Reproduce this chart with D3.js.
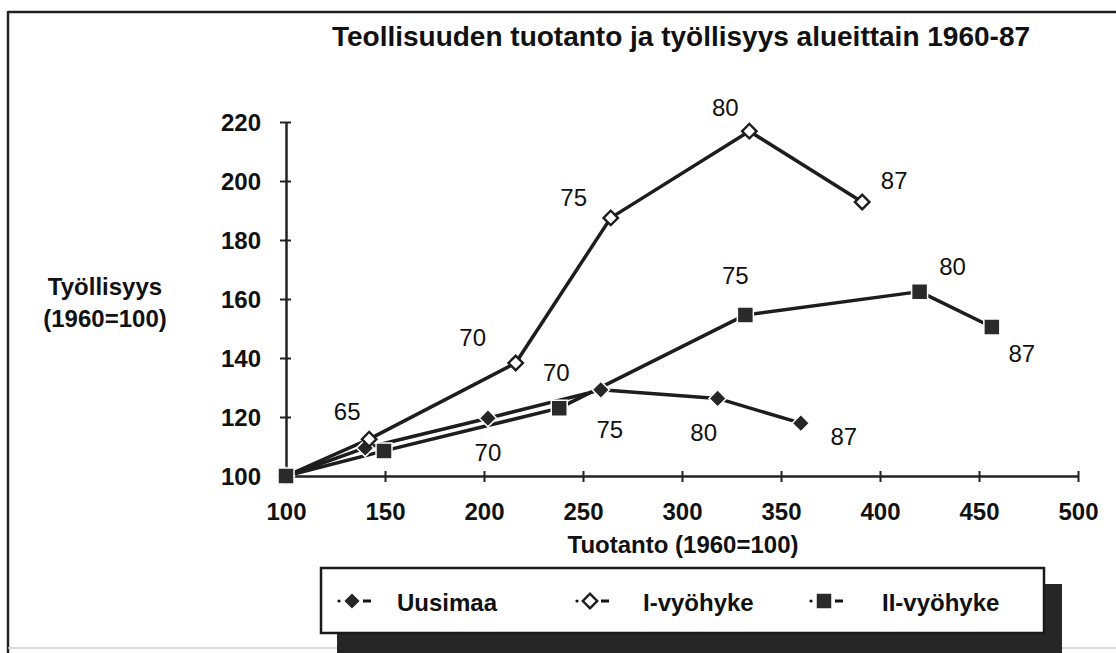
<!DOCTYPE html>
<html>
<head>
  <meta charset="utf-8">
  <title>Teollisuuden tuotanto ja työllisyys</title>
  <script src="https://cdn.jsdelivr.net/npm/d3@7"></script>
  <style>
    body { margin: 0; background: #fff; }
    svg text { font-family: "Liberation Sans", Arial, Helvetica, sans-serif; fill: #111; }
  </style>
</head>
<body>
  <div id="chart"></div>
  <script>
    // vuodet (pisteiden nimiöt)
    const years = ["60", "65", "70", "75", "80", "87"];

    // Uusimaa
    const uusimaaTuotanto = [100, 140, 202, 259, 318, 360];
    const uusimaaTyo = [100, 109.5, 119.6, 129.2, 126.3, 117.9];

    // I-vyöhyke
    const vyo1Tuotanto = [100, 142, 216, 264, 334, 391];
    const vyo1Tyo = [100, 112.5, 138.3, 187.5, 216.9, 192.9];

    // II-vyöhyke
    const vyo2Tuotanto = [100, 149.5, 238, 332, 420, 456.5];
    const vyo2Tyo = [100, 108.5, 123, 154.6, 162.5, 150.5];

    const xTicks = [100, 150, 200, 250, 300, 350, 400, 450, 500];
    const yTicks = [100, 120, 140, 160, 180, 200, 220];

    // missä kohtaa vuosinimiö on pisteeseen nähden (px), null = ei nimiötä
    const uusimaaLabelPos = [null, null, [0, 34], [9, 39], [-14, 34], [43, 13]];
    const vyo1LabelPos = [null, [-22, -28], [-43, -26], [-37, -21], [-24, -24], [32, -22]];
    const vyo2LabelPos = [null, null, [-3, -36], [-10, -40], [33, -25], [30, 26]];

    const w = 1116;
    const h = 653;

    const svg = d3.select("#chart")
      .append("svg")
      .attr("width", w)
      .attr("height", h);

    // kehys
    svg.append("line").attr("x1", 8).attr("y1", 12).attr("x2", w).attr("y2", 12)
      .attr("stroke", "#222").attr("stroke-width", 2.5);
    svg.append("line").attr("x1", 8).attr("y1", 11).attr("x2", 8).attr("y2", h)
      .attr("stroke", "#222").attr("stroke-width", 2.5);
    svg.append("line").attr("x1", 8).attr("y1", 648).attr("x2", w).attr("y2", 648)
      .attr("stroke", "#ccc").attr("stroke-width", 1.5);

    // otsikko
    svg.append("text")
      .attr("x", 681).attr("y", 46)
      .attr("text-anchor", "middle")
      .attr("font-size", 28).attr("font-weight", "bold")
      .text("Teollisuuden tuotanto ja työllisyys alueittain 1960-87");

    const x = d3.scaleLinear().domain([100, 500]).range([286, 1078]);
    const y = d3.scaleLinear().domain([100, 220]).range([476, 122]);

    // akselit
    const xAxis = svg.append("g")
      .attr("transform", "translate(0,476)")
      .call(d3.axisBottom(x).tickValues(xTicks).tickSize(5).tickSizeOuter(0).tickPadding(22));
    const yAxis = svg.append("g")
      .attr("transform", "translate(286,0)")
      .call(d3.axisLeft(y).tickValues(yTicks).tickSize(5).tickSizeOuter(0).tickPadding(20));

    [xAxis, yAxis].forEach(function (g) {
      g.select(".domain").attr("stroke", "#222").attr("stroke-width", 2.5);
      g.selectAll(".tick line").attr("stroke", "#222").attr("stroke-width", 2);
      g.selectAll(".tick text")
        .attr("fill", "#111")
        .attr("font-size", 24).attr("font-weight", "bold")
        .attr("font-family", "Liberation Sans, Arial, sans-serif");
    });
    // ristikkäiset tikut
    xAxis.selectAll(".tick line").attr("y1", -5).attr("y2", 6);
    yAxis.selectAll(".tick line").attr("x1", -6).attr("x2", 5);
    yAxis.selectAll(".tick text").attr("dy", "0.36em");
    xAxis.selectAll(".tick text").attr("dy", "0.71em");

    // akselien nimet
    svg.append("text")
      .attr("x", 683).attr("y", 553)
      .attr("text-anchor", "middle")
      .attr("font-size", 24).attr("font-weight", "bold")
      .text("Tuotanto (1960=100)");
    svg.append("text")
      .attr("x", 105).attr("y", 295)
      .attr("text-anchor", "middle")
      .attr("font-size", 24).attr("font-weight", "bold")
      .text("Työllisyys");
    svg.append("text")
      .attr("x", 105).attr("y", 327)
      .attr("text-anchor", "middle")
      .attr("font-size", 24).attr("font-weight", "bold")
      .text("(1960=100)");

    const series = [
      { name: "Uusimaa", tx: uusimaaTuotanto, ty: uusimaaTyo, pos: uusimaaLabelPos, mark: "fdiamond" },
      { name: "I-vyöhyke", tx: vyo1Tuotanto, ty: vyo1Tyo, pos: vyo1LabelPos, mark: "odiamond" },
      { name: "II-vyöhyke", tx: vyo2Tuotanto, ty: vyo2Tyo, pos: vyo2LabelPos, mark: "square" }
    ];

    const line = d3.line()
      .x(function (d) { return x(d[0]); })
      .y(function (d) { return y(d[1]); });

    // viivat
    series.forEach(function (s) {
      const pts = s.tx.map(function (v, i) { return [v, s.ty[i]]; });
      svg.append("path")
        .datum(pts)
        .attr("d", line)
        .attr("fill", "none")
        .attr("stroke", "#1d1d1d")
        .attr("stroke-width", 3.5)
        .attr("stroke-linejoin", "round");
    });

    function drawMarker(g, kind, cx, cy) {
      if (kind === "square") {
        g.append("path")
          .attr("d", d3.symbol().type(d3.symbolSquare).size(256)())
          .attr("transform", "translate(" + cx + "," + cy + ")")
          .attr("fill", "#2a2a2a")
          .attr("stroke", "#fff").attr("stroke-width", 1.5);
      } else if (kind === "fdiamond") {
        g.append("path")
          .attr("d", d3.symbol().type(d3.symbolSquare).size(150)())
          .attr("transform", "translate(" + cx + "," + cy + ") rotate(45)")
          .attr("fill", "#262626")
          .attr("stroke", "#fff").attr("stroke-width", 1.5);
      } else {
        g.append("path")
          .attr("d", d3.symbol().type(d3.symbolSquare).size(105)())
          .attr("transform", "translate(" + cx + "," + cy + ") rotate(45)")
          .attr("fill", "#fff")
          .attr("stroke", "#1d1d1d").attr("stroke-width", 2.4);
      }
    }

    // pisteet ja vuosinimiöt
    const marks = svg.append("g");
    series.forEach(function (s) {
      s.tx.forEach(function (v, i) {
        drawMarker(marks, s.mark, x(v), y(s.ty[i]));
        if (s.pos[i]) {
          svg.append("text")
            .attr("x", x(v) + s.pos[i][0])
            .attr("y", y(s.ty[i]) + s.pos[i][1])
            .attr("dy", "0.36em")
            .attr("text-anchor", "middle")
            .attr("font-size", 24)
            .text(years[i]);
        }
      });
    });

    // selite
    svg.append("rect")
      .attr("x", 337).attr("y", 584).attr("width", 725).attr("height", 80)
      .attr("fill", "#262626");
    svg.append("rect")
      .attr("x", 321).attr("y", 568).attr("width", 723).attr("height", 65)
      .attr("fill", "#fff").attr("stroke", "#1a1a1a").attr("stroke-width", 2.5);

    const legendSymX = [352, 590, 824];
    const legendTextX = [397, 643, 882];
    const legend = svg.append("g");
    series.forEach(function (s, i) {
      const cx = legendSymX[i];
      legend.append("circle").attr("cx", cx - 13).attr("cy", 601).attr("r", 1.6).attr("fill", "#111");
      legend.append("rect").attr("x", cx + 11).attr("y", 599.5).attr("width", 8).attr("height", 3).attr("fill", "#111");
      drawMarker(legend, s.mark, cx, 601);
      legend.append("text")
        .attr("x", legendTextX[i]).attr("y", 611)
        .attr("font-size", 24).attr("font-weight", "bold")
        .text(s.name);
    });
  </script>
</body>
</html>
